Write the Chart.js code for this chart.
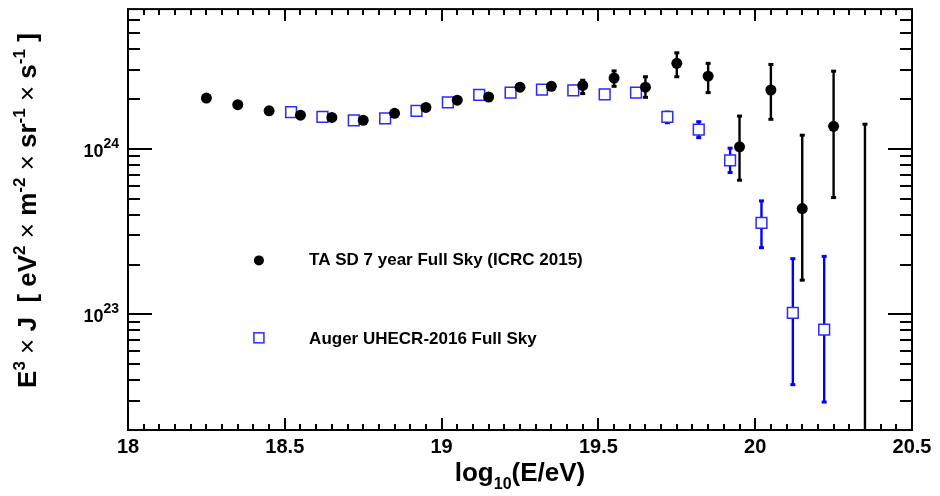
<!DOCTYPE html>
<html><head><meta charset="utf-8">
<script src="https://cdn.jsdelivr.net/npm/chart.js@4.4.1/dist/chart.umd.min.js"></script>
<style>html,body{margin:0;padding:0;background:#fff;overflow:hidden}</style>
</head><body>
<canvas id="c" width="940" height="496"></canvas>
<script>
// ---------------- data ----------------
const taLabel = 'TA SD 7 year Full Sky (ICRC 2015)';
const taX = [18.25, 18.35, 18.45, 18.55, 18.65, 18.75, 18.85, 18.95, 19.05, 19.15, 19.25, 19.35,
             19.45, 19.55, 19.65, 19.75, 19.85, 19.95, 20.05, 20.15, 20.25, 20.35];
const taY = [2.03e24, 1.85e24, 1.70e24, 1.60e24, 1.55e24, 1.49e24, 1.64e24, 1.78e24, 1.97e24, 2.06e24, 2.36e24, 2.39e24,
             2.42e24, 2.68e24, 2.36e24, 3.29e24, 2.75e24, 1.03e24, 2.27e24, 4.36e23, 1.37e24, 1.0e22];
const taHi = [null, null, null, null, null, null, null, null, null, null, null, null,
              2.60e24, 2.96e24, 2.73e24, 3.81e24, 3.29e24, 1.58e24, 3.24e24, 1.21e24, 2.95e24, 1.41e24];
const taLo = [null, null, null, null, null, null, null, null, null, null, null, null,
              2.16e24, 2.39e24, 2.05e24, 2.73e24, 2.19e24, 6.47e23, 1.51e24, 1.61e23, 5.08e23, 1.0e21];

const augerLabel = 'Auger UHECR-2016 Full Sky';
const augerX = [18.52, 18.62, 18.72, 18.82, 18.92, 19.02, 19.12, 19.22, 19.32, 19.42, 19.52, 19.62,
                19.72, 19.82, 19.92, 20.02, 20.12, 20.22];
const augerY = [1.67e24, 1.56e24, 1.49e24, 1.53e24, 1.70e24, 1.91e24, 2.12e24, 2.19e24, 2.28e24, 2.26e24, 2.14e24, 2.19e24,
                1.56e24, 1.31e24, 8.54e23, 3.57e23, 1.02e23, 8.08e22];
const augerHi = [null, null, null, null, null, null, null, null, null, null, null, null,
                 1.67e24, 1.46e24, 1.01e24, 4.85e23, 2.17e23, 2.24e23];
const augerLo = [null, null, null, null, null, null, null, null, null, null, null, null,
                 1.44e24, 1.17e24, 7.2e23, 2.53e23, 3.76e22, 2.95e22];

const xMin = 18, xMax = 20.5;
const yMin = 2e22, yMax = 7e24;
const xTickValues = [18, 18.5, 19, 19.5, 20, 20.5];
const xTickLabels = ['18', '18.5', '19', '19.5', '20', '20.5'];
const yTickValues = [1e23, 1e24];
const yTickExponents = ['23', '24'];

// ---------------- styling helpers ----------------
const FAM = '"Liberation Sans", Arial, Helvetica, sans-serif';
function f(size, bold) { return (bold === false ? '' : 'bold ') + size + 'px ' + FAM; }

function richWidth(ctx, pieces) {
  let w = 0;
  for (const p of pieces) { ctx.font = p.font; w += ctx.measureText(p.t).width; }
  return w;
}
function drawRich(ctx, pieces, x, y, align) {
  const w = richWidth(ctx, pieces);
  let cx = align === 'center' ? x - w / 2 : (align === 'right' ? x - w : x);
  ctx.textAlign = 'left';
  ctx.textBaseline = 'alphabetic';
  for (const p of pieces) {
    ctx.font = p.font;
    ctx.fillText(p.t, cx, y + (p.dy || 0));
    cx += ctx.measureText(p.t).width;
  }
}

const toPts = (xs, ys) => xs.map((x, i) => ({ x: x, y: ys[i] }));

// ---------------- plugins ----------------
const errorBars = {
  id: 'errorBars',
  beforeDatasetsDraw(chart) {
    const ctx = chart.ctx, xs = chart.scales.x, ys = chart.scales.y, a = chart.chartArea;
    ctx.save();
    ctx.beginPath(); ctx.rect(a.left, a.top, a.right - a.left, a.bottom - a.top); ctx.clip();
    chart.data.datasets.forEach(ds => {
      ds.data.forEach((p, i) => {
        if (ds.errHi[i] == null) return;
        const px = xs.getPixelForValue(p.x);
        const yh = ys.getPixelForValue(ds.errHi[i]);
        const yl = ys.getPixelForValue(ds.errLo[i]);
        ctx.strokeStyle = ds.errColor; ctx.fillStyle = ds.errColor;
        ctx.lineWidth = 2.4;
        ctx.beginPath(); ctx.moveTo(px, yh); ctx.lineTo(px, yl); ctx.stroke();
        ctx.fillRect(px - 2.5, yh - 1.5, 5, 3);
        ctx.fillRect(px - 2.5, yl - 1.5, 5, 3);
      });
    });
    ctx.restore();
  }
};

const frameAxes = {
  id: 'frameAxes',
  afterDraw(chart) {
    const ctx = chart.ctx, xs = chart.scales.x, ys = chart.scales.y, a = chart.chartArea;
    ctx.save();
    ctx.strokeStyle = '#000'; ctx.fillStyle = '#000';
    // ticks
    ctx.lineWidth = 2;
    ctx.beginPath();
    for (let i = 0; i <= Math.round((xMax - xMin) / 0.05); i++) {
      const v = xMin + i * 0.05;
      const major = Math.abs(v * 2 - Math.round(v * 2)) < 1e-6;
      const px = Math.round(xs.getPixelForValue(v));
      const len = major ? 12 : 6;
      ctx.moveTo(px, a.bottom); ctx.lineTo(px, a.bottom - len);
      ctx.moveTo(px, a.top); ctx.lineTo(px, a.top + len);
    }
    for (let n = 22; n <= 24; n++) {
      for (let k = 1; k <= 9; k++) {
        const v = k * Math.pow(10, n);
        if (v <= yMin * 1.0001 || v >= yMax * 0.9999) continue;
        const py = Math.round(ys.getPixelForValue(v));
        const len = k === 1 ? 24 : 12;
        ctx.moveTo(a.left, py); ctx.lineTo(a.left + len, py);
        ctx.moveTo(a.right, py); ctx.lineTo(a.right - len, py);
      }
    }
    ctx.stroke();
    // frame
    ctx.lineWidth = 2;
    ctx.strokeRect(a.left, a.top, a.right - a.left, a.bottom - a.top);

    // x tick labels
    ctx.textAlign = 'center'; ctx.textBaseline = 'alphabetic';
    ctx.font = f(20);
    xTickValues.forEach((v, i) => {
      ctx.fillText(xTickLabels[i], xs.getPixelForValue(v), a.bottom + 23);
    });
    // y tick labels 10^n
    yTickValues.forEach((v, i) => {
      const py = ys.getPixelForValue(v);
      drawRich(ctx, [
        { t: '10', font: f(18) },
        { t: yTickExponents[i], font: f(14), dy: -9 }
      ], a.left - 9, py + 8, 'right');
    });

    // x title
    drawRich(ctx, [
      { t: 'log', font: f(26) },
      { t: '10', font: f(16), dy: 8 },
      { t: '(E/eV)', font: f(26) }
    ], (a.left + a.right) / 2, a.bottom + 51, 'center');

    // y title (rotated)
    const B = f(26), S = f(17), N = f(26, false);
    const yt = [
      { t: 'E', font: B }, { t: '3', font: S, dy: -11 },
      { t: ' ', font: B }, { t: '\u00d7', font: N }, { t: ' J  [ eV', font: B }, { t: '2', font: S, dy: -11 },
      { t: ' ', font: B }, { t: '\u00d7', font: N }, { t: ' m', font: B }, { t: '-2', font: S, dy: -11 },
      { t: ' ', font: B }, { t: '\u00d7', font: N }, { t: ' sr', font: B }, { t: '-1', font: S, dy: -11 },
      { t: ' ', font: B }, { t: '\u00d7', font: N }, { t: ' s', font: B }, { t: '-1', font: S, dy: -11 },
      { t: ' ]', font: B }
    ];
    ctx.save();
    ctx.translate(a.left - 92, (a.top + a.bottom) / 2 - 9);
    ctx.rotate(-Math.PI / 2);
    drawRich(ctx, yt, 0, 0, 'center');
    ctx.restore();

    // legend
    const lx = a.left + 0.167 * (a.right - a.left);
    const tx = a.left + 0.231 * (a.right - a.left);
    const ly1 = a.top + 0.597 * (a.bottom - a.top);
    const ly2 = a.top + 0.781 * (a.bottom - a.top);
    ctx.beginPath(); ctx.arc(lx, ly1, 5, 0, Math.PI * 2); ctx.fill();
    ctx.lineWidth = 1.5; ctx.strokeStyle = '#2a2aff';
    ctx.fillStyle = '#fff';
    ctx.fillRect(lx - 5, ly2 - 5, 10, 10);
    ctx.strokeRect(lx - 5, ly2 - 5, 10, 10);
    ctx.fillStyle = '#000';
    ctx.font = f(17); ctx.textAlign = 'left';
    ctx.fillText(taLabel, tx, ly1 + 5);
    ctx.fillText(augerLabel, tx, ly2 + 6);
    ctx.restore();
  }
};

// ---------------- chart ----------------
new Chart(document.getElementById('c'), {
  type: 'scatter',
  data: {
    datasets: [
      {
        label: taLabel,
        data: toPts(taX, taY),
        errHi: taHi, errLo: taLo, errColor: '#000000',
        pointStyle: 'circle', pointRadius: 5.5, pointHoverRadius: 5.5,
        backgroundColor: '#000000', borderColor: '#000000', borderWidth: 0
      },
      {
        label: augerLabel,
        data: toPts(augerX, augerY),
        errHi: augerHi, errLo: augerLo, errColor: '#0000ff',
        pointStyle: 'rect', pointRadius: 7.6, pointHoverRadius: 7.6,
        backgroundColor: '#ffffff', borderColor: '#2a2aff', borderWidth: 1.5
      }
    ]
  },
  options: {
    responsive: false,
    animation: false,
    devicePixelRatio: 1,
    layout: { padding: { left: 128, right: 28, top: 8, bottom: 66 } },
    plugins: { legend: { display: false }, tooltip: { enabled: false } },
    scales: {
      x: { type: 'linear', min: xMin, max: xMax, display: false },
      y: { type: 'logarithmic', min: yMin, max: yMax, display: false }
    }
  },
  plugins: [errorBars, frameAxes]
});
</script>
</body></html>
